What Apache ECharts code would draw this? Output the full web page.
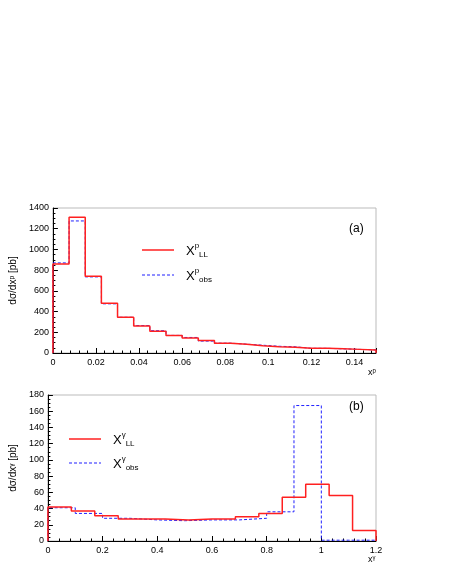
<!DOCTYPE html>
<html><head><meta charset="utf-8">
<script src="https://cdn.jsdelivr.net/npm/echarts@6/dist/echarts.min.js"></script>
<style>html,body{margin:0;background:#fff}#c{width:451px;height:583px}</style>
</head><body><div id="c"></div>
<script>
// panel (a): x_p, 20 bins from 0 to 0.15
const edgesA = [0,0.0075,0.015,0.0225,0.03,0.0375,0.045,0.0525,0.06,0.0675,0.075,0.0825,0.09,0.0975,0.105,0.1125,0.12,0.1275,0.135,0.1425,0.15];
const llA  = [860,1310,740,480,345,260,210,170,145,120,95,85,70,60,55,45,45,40,35,30];
const obsA = [870,1275,735,475,345,265,215,170,150,115,95,85,75,65,60,45,45,40,35,30];
// panel (b): x_gamma
const edgesLL = [0,0.0857,0.1714,0.2571,0.3429,0.4286,0.5143,0.6,0.6857,0.7714,0.8571,0.9429,1.0286,1.1143,1.2];
const llB  = [42,37,31,27,27,26,27,27,30,34,54,70,56,13];
const edgesObs = [0,0.1,0.2,0.3,0.4,0.5,0.6,0.7,0.8,0.9,1.0,1.1,1.2];
const obsB = [41,34,28,26,25,26,26,28,36,167,1,1];

function steps(edges, vals) {
  const pts = [[edges[0], 0]];
  vals.forEach((v, i) => { pts.push([edges[i], v]); pts.push([edges[i + 1], v]); });
  pts.push([edges[edges.length - 1], 0]);
  return pts;
}

const font = 'Liberation Sans';
const axisStyle = {color: '#000', fontSize: 9, fontFamily: font};
function xAxis(grid, max, interval, showMax) {
  return {type: 'value', gridIndex: grid, min: 0, max: max, interval: interval,
    axisLine: {onZero: false, lineStyle: {color: '#000'}},
    axisTick: {inside: true, length: 5, lineStyle: {color: '#000'}},
    minorTick: {show: true, splitNumber: 5, length: 2.5, lineStyle: {color: '#000'}},
    axisLabel: Object.assign({margin: 5, showMaxLabel: showMax, formatter: v => String(+v.toFixed(3))}, axisStyle),
    splitLine: {show: false}};
}
function yAxis(grid, max, interval, name) {
  return {type: 'value', gridIndex: grid, min: 0, max: max, interval: interval,
    name: name, nameLocation: 'middle', nameGap: 28,
    nameTextStyle: {fontSize: 10, fontFamily: font, color: '#000'},
    axisLine: {lineStyle: {color: '#000'}},
    axisTick: {inside: true, length: 5, lineStyle: {color: '#000'}},
    minorTick: {show: true, splitNumber: 4, length: 2.5, lineStyle: {color: '#000'}},
    axisLabel: Object.assign({margin: 4, formatter: v => String(v)}, axisStyle),
    splitLine: {show: false}};
}
const red = '#ff2020', blue = '#2020ff';
const rich = {s: {fontSize: 8, verticalAlign: 'bottom', padding: [0, 0, 10, 0], fontFamily: font}, b: {fontSize: 8, fontFamily: font, padding: [8, 0, 0, 0]}};
function legend(x, y, color, dashed, sup, sub) {
  return [
    {type: 'line', shape: {x1: x, y1: y, x2: x + 32, y2: y}, style: {stroke: color, lineWidth: dashed ? 1.2 : 1.5, lineDash: dashed ? [3, 2] : null}},
    {type: 'text', x: x + 44, y: y - 8, style: {text: 'X{s|' + sup + '}{b|' + sub + '}', fontSize: 13, fontFamily: font, fill: '#000', rich: rich}}
  ];
}

const chart = echarts.init(document.getElementById('c'));
chart.setOption({
  animation: false,
  grid: [
    {left: 41, top: 208, width: 335, height: 145, show: true, borderColor: '#bbb', borderWidth: 1},
    {left: 41, top: 395, width: 335, height: 146, show: true, borderColor: '#bbb', borderWidth: 1}
  ],
  xAxis: [xAxis(0, 0.15, 0.02, false), xAxis(1, 1.2, 0.2, true)],
  yAxis: [yAxis(0, 1400, 200, 'dσ/dxᵖ [pb]'), yAxis(1, 180, 20, 'dσ/dxᵞ [pb]')],
  series: [
    {type: 'line', xAxisIndex: 0, yAxisIndex: 0, data: steps(edgesA, obsA), symbol: 'none', lineStyle: {color: blue, width: 1, type: [3, 2]}},
    {type: 'line', xAxisIndex: 0, yAxisIndex: 0, data: steps(edgesA, llA), symbol: 'none', lineStyle: {color: red, width: 1.5}},
    {type: 'line', xAxisIndex: 1, yAxisIndex: 1, data: steps(edgesObs, obsB), symbol: 'none', lineStyle: {color: blue, width: 1, type: [3, 2]}},
    {type: 'line', xAxisIndex: 1, yAxisIndex: 1, data: steps(edgesLL, llB), symbol: 'none', lineStyle: {color: red, width: 1.5}}
  ],
  graphic: [].concat(
    legend(142, 250, red, false, 'p', 'LL'),
    legend(142, 275, blue, true, 'p', 'obs'),
    legend(69, 439, red, false, 'γ', 'LL'),
    legend(69, 463, blue, true, 'γ', 'obs'),
    [
      {type: 'text', x: 349, y: 223, style: {text: '(a)', fontSize: 12, fontFamily: font, fill: '#000'}},
      {type: 'text', x: 349, y: 401, style: {text: '(b)', fontSize: 12, fontFamily: font, fill: '#000'}},
      {type: 'text', x: 368, y: 368, style: {text: 'xᵖ', fontSize: 9, fontFamily: font, fill: '#000'}},
      {type: 'text', x: 368, y: 555, style: {text: 'xᵞ', fontSize: 9, fontFamily: font, fill: '#000'}}
    ]
  )
});
</script></body></html>
